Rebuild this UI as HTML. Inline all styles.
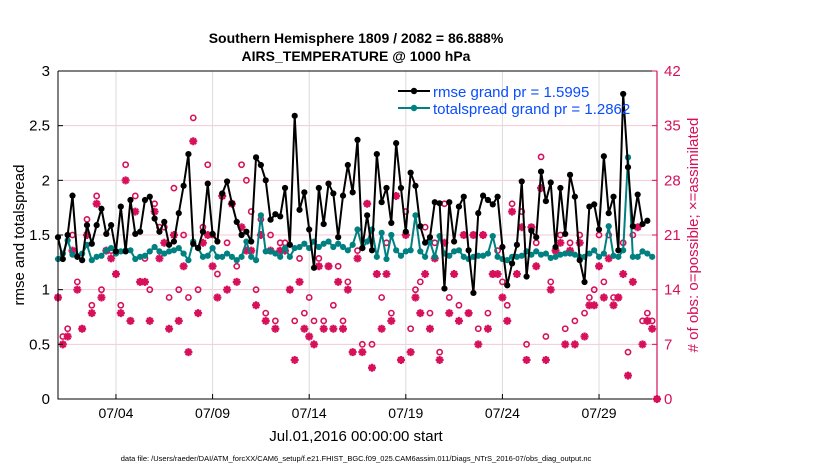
<!DOCTYPE html>
<html><head><meta charset="utf-8"><style>
body{margin:0;background:#fff;font-family:"Liberation Sans",sans-serif}
</style></head><body>
<svg id="chart" width="830" height="470" xmlns="http://www.w3.org/2000/svg" font-family="Liberation Sans, sans-serif">
<g id="grid"></g>
<g id="marks"></g>
<g id="axes"></g>
<text x="356" y="43" text-anchor="middle" font-size="14" font-weight="bold">Southern Hemisphere 1809 / 2082 = 86.888%</text>
<text x="356" y="61" text-anchor="middle" font-size="14" font-weight="bold">AIRS_TEMPERATURE @ 1000 hPa</text>
<text transform="translate(24,235) rotate(-90)" text-anchor="middle" font-size="15">rmse and totalspread</text>
<text transform="translate(698,235) rotate(-90)" text-anchor="middle" font-size="15" fill="#d6105a"># of obs: o=possible; ×=assimilated</text>
<text x="356" y="441" text-anchor="middle" font-size="15">Jul.01,2016 00:00:00 start</text>
<text x="356" y="461" text-anchor="middle" font-size="7.5">data file: /Users/raeder/DAI/ATM_forcXX/CAM6_setup/f.e21.FHIST_BGC.f09_025.CAM6assim.011/Diags_NTrS_2016-07/obs_diag_output.nc</text>
<g>
<line x1="398" y1="91" x2="430" y2="91" stroke="#000" stroke-width="2"/><circle cx="414" cy="91" r="3.2" fill="#000"/>
<text x="433" y="97" font-size="15" fill="#0a4cff">rmse grand pr = 1.5995</text>
<line x1="398" y1="108" x2="430" y2="108" stroke="#008080" stroke-width="2"/><circle cx="414" cy="108" r="3.2" fill="#008080"/>
<text x="433" y="114" font-size="15" fill="#0a4cff">totalspread grand pr = 1.2862</text>
</g>
</svg>
<script>
const rmse=[1.48,1.28,1.50,1.86,1.30,1.27,1.59,1.42,1.59,1.74,1.51,1.59,1.35,1.76,1.35,1.82,1.51,1.53,1.82,1.85,1.65,1.53,1.62,1.41,1.44,1.70,1.95,2.24,1.42,1.38,1.53,1.97,
1.51,1.44,1.88,1.99,1.79,1.62,1.50,1.53,1.44,2.21,2.14,2.00,1.64,1.69,1.67,1.93,1.41,2.59,1.73,1.89,1.55,1.20,1.93,1.60,1.97,1.88,1.48,1.86,2.14,1.89,2.37,
1.38,1.68,1.36,2.24,1.80,1.93,1.61,2.34,1.93,1.53,2.07,1.95,1.58,1.43,1.48,1.80,1.79,1.01,1.80,1.44,1.76,1.85,1.36,0.97,1.70,1.86,1.82,1.78,1.85,1.39,1.04,
1.24,1.41,1.99,1.12,1.54,1.48,2.08,1.81,1.98,1.39,1.93,1.51,2.05,1.85,1.27,1.07,1.76,1.78,1.55,2.22,1.70,1.85,1.36,2.79,2.12,1.58,1.87,1.60,1.63];
const spread=[1.28,1.33,1.45,1.32,1.31,1.33,1.41,1.27,1.30,1.31,1.36,1.38,1.33,1.35,1.36,1.36,1.28,1.30,1.31,1.35,1.39,1.35,1.33,1.35,1.36,1.38,1.33,1.27,1.44,1.38,1.30,1.31,
1.38,1.30,1.30,1.33,1.30,1.27,1.30,1.44,1.30,1.27,1.68,1.35,1.35,1.33,1.30,1.38,1.30,1.38,1.39,1.42,1.38,1.44,1.39,1.42,1.44,1.39,1.42,1.39,1.36,1.41,1.55,
1.38,1.44,1.55,1.30,1.52,1.28,1.50,1.36,1.31,1.35,1.36,1.68,1.35,1.30,1.44,1.30,1.49,1.33,1.31,1.35,1.36,1.30,1.28,1.30,1.31,1.31,1.33,1.49,1.30,1.28,1.27,1.30,
1.30,1.31,1.35,1.32,1.35,1.32,1.33,1.29,1.30,1.32,1.33,1.33,1.32,1.30,1.30,1.33,1.36,1.30,1.33,1.58,1.31,1.30,1.36,2.21,1.30,1.30,1.35,1.33,1.30];
const possible=[13,8,9,21,15,9,23,12,26,14,19,19,16,12,30,10,26,15,18,14,25,22,22,13,27,14,21,13,36,14,22,30,
21,16,26,20,25,17,30,28,24,14,23,11,21,10,20,20,14,10,18,11,13,10,18,10,17,12,17,10,15,6,19,
7,25,7,16,13,20,11,26,5,24,9,14,15,22,11,20,6,25,13,16,12,21,11,21,9,21,11,16,19,15,12,
25,16,24,7,22,20,31,8,15,19,21,9,20,10,21,11,13,14,21,15,21,13,13,20,6,21,22,10,11,10,0];
const assimilated=[13,7,8,19,14,9,21,11,25,13,19,18,16,11,28,10,24,15,15,10,24,18,20,9,21,10,17,6,33,11,20,21,
17,13,26,14,25,15,22,19,19,12,21,10,19,9,19,19,14,5,15,9,8,7,17,9,17,9,15,9,14,6,18,
6,25,4,16,9,16,10,26,5,21,6,13,11,16,9,18,5,20,11,16,10,21,11,21,7,21,9,16,16,13,10,
24,16,22,5,22,17,27,5,14,19,20,7,19,7,20,8,12,12,17,13,18,12,13,16,3,15,22,7,10,9,0];
const dateTicks=["07/04","07/09","07/14","07/19","07/24","07/29"];
const dateTickDays=[3,8,13,18,23,28];
const yTicks=["0","0.5","1","1.5","2","2.5","3"];
const y2Ticks=["0","7","14","21","28","35","42"];

const L=58,R=657,T=71,B=399,DAYS=31,STEP=0.25;
const xDay=d=>L+(R-L)*d/DAYS;
const xIdx=i=>xDay(i*STEP);
const y1=v=>B-(B-T)*v/3;
const y2=v=>B-(B-T)*v/42;
const NS="http://www.w3.org/2000/svg";
function mk(tag,attrs,parent){const e=document.createElementNS(NS,tag);for(const k in attrs)e.setAttribute(k,attrs[k]);parent.appendChild(e);return e;}
const grid=document.getElementById('grid'),marks=document.getElementById('marks'),axes=document.getElementById('axes');
const MAG="#d6105a";

y2Ticks.forEach((t,k)=>{const v=+t;if(v>0&&v<42){const g=mk('line',{x1:L,x2:R,y1:y2(v),y2:y2(v),stroke:"#f3c9d8","stroke-width":1},grid);

}});
dateTickDays.forEach((d,k)=>{const g=mk('line',{x1:xDay(d),x2:xDay(d),y1:T,y2:B,stroke:"#dcdcdc","stroke-width":1},grid);


const tk=mk('line',{x1:xDay(d),x2:xDay(d),y1:B,y2:B-5,stroke:"#000"},axes);


const lb=mk('text',{x:xDay(d),y:B+19,"text-anchor":"middle","font-size":14},axes);lb.textContent=dateTicks[k];

});

// observation counts
function star(cx,cy,s){let d="";for(let a=0;a<4;a++){const an=a*Math.PI/4;const dx=s*Math.cos(an),dy=s*Math.sin(an);d+=`M${cx-dx},${cy-dy}L${cx+dx},${cy+dy}`;}return d;}
possible.forEach((v,i)=>{const c=mk('circle',{cx:xIdx(i),cy:y2(v),r:2.6,fill:"none",stroke:MAG,"stroke-width":1.6},marks);

});
assimilated.forEach((v,i)=>{const p=mk('path',{d:star(xIdx(i),y2(v),4),stroke:MAG,"stroke-width":2.2,fill:"none"},marks);

});

function series(arr,color,name){
 const pl=mk('polyline',{points:arr.map((v,i)=>xIdx(i)+","+y1(v)).join(" "),fill:"none",stroke:color,"stroke-width":2,"stroke-linejoin":"round"},marks);
 
 
 arr.forEach((v,i)=>{const c=mk('circle',{cx:xIdx(i),cy:y1(v),r:3.1,fill:color},marks);
 
 });
}
series(spread,"#008080","totalspread");
series(rmse,"#000000","rmse");

// axes frame
const f1=mk('path',{d:`M${L},${T}L${R},${T}M${L},${T}L${L},${B}L${R},${B}`,stroke:"#000",fill:"none","stroke-width":1},axes);


const f2=mk('line',{x1:R,x2:R,y1:T,y2:B,stroke:MAG,"stroke-width":1.2},axes);


yTicks.forEach(t=>{const v=+t;const tk=mk('line',{x1:L,x2:L+5,y1:y1(v),y2:y1(v),stroke:"#000"},axes);


const lb=mk('text',{x:L-8,y:y1(v)+5,"text-anchor":"end","font-size":15},axes);lb.textContent=t;

});
y2Ticks.forEach(t=>{const v=+t;const tk=mk('line',{x1:R-5,x2:R,y1:y2(v),y2:y2(v),stroke:MAG},axes);


const lb=mk('text',{x:R+7,y:y2(v)+5,"text-anchor":"start","font-size":15,fill:MAG},axes);lb.textContent=t;

});
</script>
</body></html>
